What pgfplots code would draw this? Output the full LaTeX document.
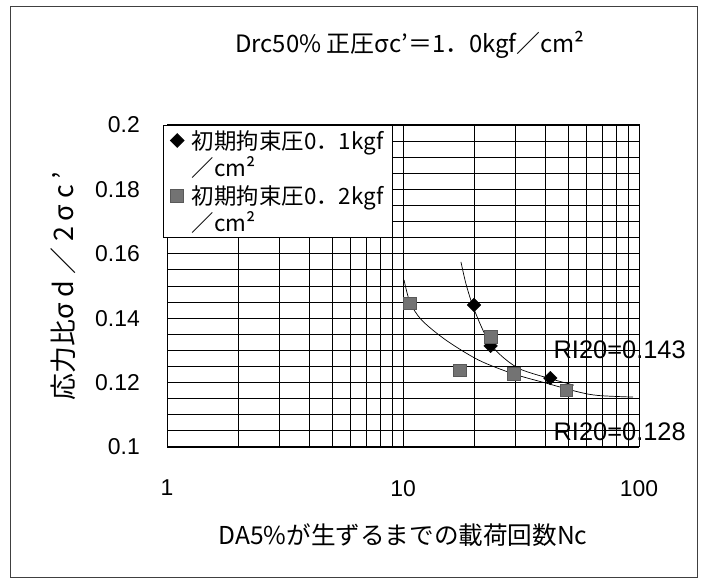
\documentclass[border=0pt]{standalone}
\usepackage{fontspec}
\setmainfont{Liberation Sans}
\newfontfamily\jp{Noto Sans CJK JP}
\newfontfamily\jpls[LetterSpace=22]{Noto Sans CJK JP}
\usepackage{pgfplots}
\pgfplotsset{compat=1.18}
\begin{document}
\begin{tikzpicture}[x=1bp,y=1bp]
\path[use as bounding box] (0,0) rectangle (710,581);
\draw[line width=0.8bp, black!75] (10,4) rectangle (697,575);
\node[anchor=center, font=\jp\fontsize{24}{24}\selectfont] at (410,536) {Drc50\% 正圧σc’＝1．0kgf／cm²};
\begin{axis}[
  at={(167bp,134bp)}, anchor=south west,
  scale only axis, width=472bp, height=322bp,
  xmode=log, xmin=1, xmax=100, ymin=0.1, ymax=0.2,
  xtick={1,10,100}, xticklabels={1,10,100},
  minor xtick={2,3,4,5,6,7,8,9,20,30,40,50,60,70,80,90},
  ytick={0.1,0.12,0.14,0.16,0.18,0.2},
  yticklabels={0.1,0.12,0.14,0.16,0.18,0.2},
  minor ytick={0.105,0.11,0.115,0.125,0.13,0.135,0.145,0.15,0.155,0.165,0.17,0.175,0.185,0.19,0.195},
  grid=both,
  major grid style={black, line width=0.8bp},
  minor grid style={black, line width=0.8bp},
  axis line style={black, line width=1bp},
  major tick length=0pt, minor tick length=0pt,
  xticklabel style={font=\fontsize{23}{23}\selectfont, inner sep=0pt, yshift=-33bp},
  yticklabel style={font=\fontsize{23}{23}\selectfont, inner sep=0pt, xshift=-27bp},
  xlabel={\jp DA5\%が生ずるまでの載荷回数Nc},
  xlabel style={at={(axis description cs:0.5,-0.2733)}, anchor=center, font=\fontsize{24.7}{24.7}\selectfont},
  ylabel={\jp 応力比{\jpls σd／2σc’}},
  ylabel style={at={(axis description cs:-0.2203,0.5)}, anchor=center, font=\fontsize{27}{27}\selectfont},
  legend style={at={(axis description cs:0,1)}, anchor=north west, xshift=-4bp,
    draw=black, line width=0.8bp, fill=white, font=\jp\fontsize{22.5}{27}\selectfont,
    inner xsep=7bp, inner ysep=3bp, row sep=4bp, cells={align=left},
    /tikz/every odd column/.append style={column sep=6bp}},
  legend image post style={yshift=13.5bp},
  legend cell align=left,
  clip=false,
]
\addplot[only marks, mark=square*, mark size=4.8bp, mark options={rotate=45, fill=black, draw=black}]
  coordinates {(20,0.1441) (23.5,0.1314) (42.1,0.1214)};
\addlegendentry{初期拘束圧0．1kgf\\／cm²}
\addplot[only marks, mark=square*, mark size=6.3bp, mark options={fill=black!55, draw=black!65}]
  coordinates {(10.7,0.1447) (23.5,0.1342) (17.4,0.1239) (29.4,0.1227) (49.2,0.1177)};
\addlegendentry{初期拘束圧0．2kgf\\／cm²}
\addplot[black, line width=0.7bp, smooth, forget plot]
  coordinates {(17.6,0.1575) (18.45,0.1509) (19.7,0.1441) (21.5,0.1373) (23.5,0.1318) (27.2,0.1272) (31.8,0.1240) (42.1,0.1212) (53,0.1192)};
\addplot[black, line width=0.7bp, smooth, forget plot]
  coordinates {(10.1,0.1519) (10.7,0.1450) (12.0,0.1394) (15.2,0.1332) (20.9,0.1270) (29.4,0.1227) (40.1,0.1199) (55.3,0.1171) (67.1,0.1160) (94.3,0.1155)};
\node[anchor=west, font=\fontsize{25.5}{25.5}\selectfont, inner sep=0pt] at (axis cs:43.4,0.1301) {RI20=0.143};
\node[anchor=west, font=\fontsize{25.5}{25.5}\selectfont, inner sep=0pt] at (axis cs:43.4,0.1047) {RI20=0.128};
\end{axis}
\end{tikzpicture}
\end{document}
